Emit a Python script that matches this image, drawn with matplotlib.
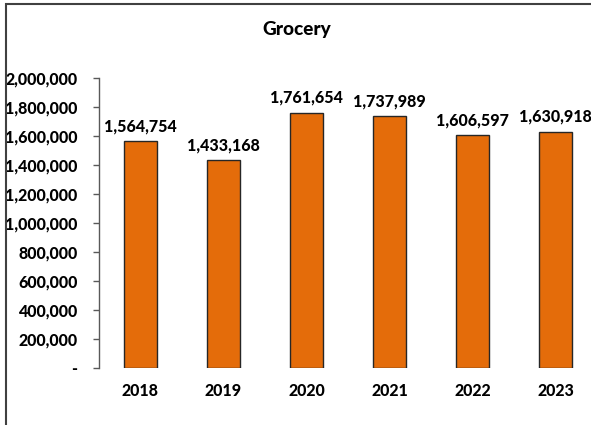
import matplotlib
matplotlib.use("Agg")
import matplotlib.pyplot as plt
from matplotlib.patches import Rectangle
from matplotlib.ticker import FuncFormatter, MultipleLocator

years = ["2018", "2019", "2020", "2021", "2022", "2023"]
sales = [1564754, 1433168, 1761654, 1737989, 1606597, 1630918]
title = "Grocery"

W, H = 591, 425
DPI = 100
FONT = "Lato"
FS = 11.5
WEIGHT = 900
plt.rcParams["font.family"] = [FONT, "DejaVu Sans"]

fig = plt.figure(figsize=(W / DPI, H / DPI), dpi=DPI)
ax = fig.add_axes([99 / W, 1 - 368 / H, (597 - 99) / W, (368 - 78) / H])

x = range(len(years))
bars = ax.bar(x, sales, width=0.4, color="#E46C0A", edgecolor="#262626", linewidth=1.0)

ax.set_xlim(-0.5, len(years) - 0.5)
ax.set_ylim(0, 2000000)
ax.yaxis.set_major_locator(MultipleLocator(200000))
ax.yaxis.set_major_formatter(FuncFormatter(lambda v, p: "-" if v == 0 else f"{v:,.0f}"))
ax.set_xticks(list(x))
ax.set_xticklabels(years)

for s in ("top", "right", "bottom"):
    ax.spines[s].set_visible(False)
ax.spines["left"].set_color("#595959")
ax.spines["left"].set_linewidth(1.0)
ax.tick_params(axis="y", direction="out", length=4, width=1.0, color="#595959",
               pad=11.5, labelsize=FS, labelcolor="black")
ax.tick_params(axis="x", length=0, pad=11, labelsize=FS, labelcolor="black")
for lbl in ax.get_xticklabels() + ax.get_yticklabels():
    lbl.set_fontweight(WEIGHT)

for rect, v in zip(bars, sales):
    ax.annotate(f"{v:,}", (rect.get_x() + rect.get_width() / 2, v),
                xytext=(0, 5), textcoords="offset points",
                ha="center", va="bottom", fontsize=FS, fontweight=WEIGHT,
                annotation_clip=False)

fig.text(297 / W, 1 - 35 / H, title, ha="center", va="baseline",
         fontsize=13.7, fontweight=WEIGHT)

# chart area outline
fig.patches.append(Rectangle((6 / W, -0.1), 1.2, 1.1 - 4.5 / H,
                             transform=fig.transFigure, fill=False,
                             edgecolor="#404040", linewidth=1.5, clip_on=False))

fig.savefig("out.png", dpi=DPI)
